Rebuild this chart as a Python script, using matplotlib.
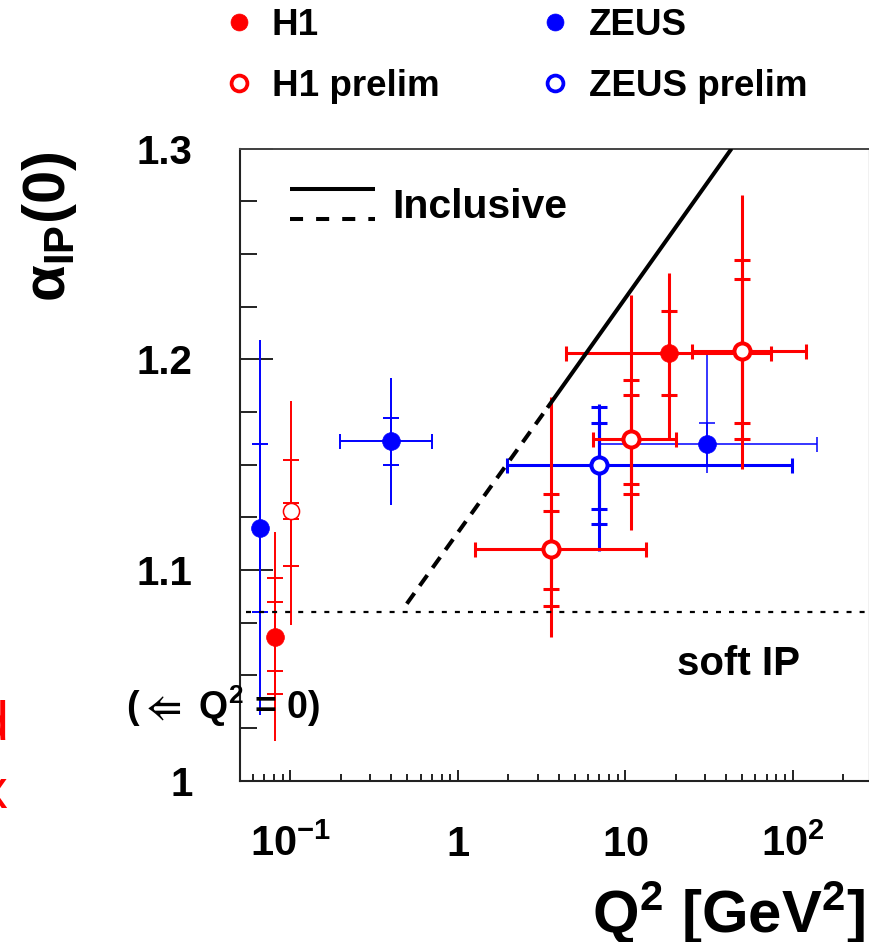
import numpy as np
import matplotlib
matplotlib.use('Agg')
import matplotlib.pyplot as plt
from matplotlib.ticker import LogLocator, MultipleLocator, NullFormatter
from matplotlib.lines import Line2D
from matplotlib.legend_handler import HandlerBase

plt.rcParams['font.family'] = ['Liberation Sans', 'DejaVu Sans']
plt.rcParams['font.weight'] = 'bold'
plt.rcParams['mathtext.fontset'] = 'custom'
plt.rcParams['mathtext.rm'] = 'Liberation Sans:bold'
plt.rcParams['mathtext.it'] = 'Liberation Sans:bold'
plt.rcParams['mathtext.bf'] = 'Liberation Sans:bold'
plt.rcParams['mathtext.default'] = 'rm'
plt.rcParams['mathtext.fallback'] = 'stixsans'
plt.rcParams['lines.scale_dashes'] = False

nan = np.nan

# ---------------- data ----------------
# ZEUS (published)
zeus_q2 = [0.066, 0.40, 30.9]
zeus_alpha = [1.120, 1.161, 1.160]
zeus_q2_lo = [nan, 0.198, 7.1]
zeus_q2_hi = [nan, 0.70, 140.0]
zeus_in_up = [0.040, 0.011, 0.010]
zeus_in_dn = [0.040, 0.011, 0.010]
zeus_mid_up = [nan, nan, nan]
zeus_mid_dn = [nan, nan, nan]
zeus_tot_up = [0.089, 0.030, 0.043]
zeus_tot_dn = [0.089, 0.030, 0.014]

# ZEUS prelim
zeusp_q2 = [7.0]
zeusp_alpha = [1.150]
zeusp_q2_lo = [1.98]
zeusp_q2_hi = [99.5]
zeusp_in_up = [0.020]
zeusp_in_dn = [0.021]
zeusp_mid_up = [0.0275]
zeusp_mid_dn = [0.028]
zeusp_tot_up = [0.029]
zeusp_tot_dn = [0.041]

# H1 (published)
h1_q2 = [0.081, 18.3]
h1_alpha = [1.068, 1.203]
h1_q2_lo = [nan, 4.46]
h1_q2_hi = [nan, 73.9]
h1_in_up = [0.017, 0.020]
h1_in_dn = [0.016, 0.020]
h1_mid_up = [0.028, nan]
h1_mid_dn = [0.027, nan]
h1_tot_up = [0.050, 0.038]
h1_tot_dn = [0.049, 0.041]

# H1 prelim
h1p_q2 = [0.101, 3.59, 10.8, 49.6]
h1p_alpha = [1.128, 1.110, 1.162, 1.204]
h1p_q2_lo = [nan, 1.27, 6.42, 25.2]
h1p_q2_hi = [nan, 13.4, 20.0, 119.6]
h1p_in_up = [0.004, 0.018, 0.021, 0.034]
h1p_in_dn = [0.004, 0.019, 0.021, 0.034]
h1p_mid_up = [0.024, 0.026, 0.028, 0.043]
h1p_mid_dn = [0.026, 0.027, 0.026, 0.042]
h1p_tot_up = [0.052, 0.072, 0.0685, 0.074]
h1p_tot_dn = [0.054, 0.042, 0.043, 0.056]

# Inclusive expectation (dashed part then solid part)
inclusive_q2 = [0.496, 3.43, 43.2]
inclusive_alpha = [1.084, 1.177, 1.300]

# soft pomeron
soft_q2 = [0.054, 286.0]
soft_alpha = 1.08

x_ticks = [0.1, 1, 10, 100]
x_tick_labels = [r'$10^{-1}$', r'$1$', r'$10$', r'$10^{2}$']
y_ticks = [1.0, 1.1, 1.2, 1.3]
y_tick_labels = ['1', '1.1', '1.2', '1.3']

# ---------------- styles ----------------
RED = '#ff0000'
BLUE = '#0000ff'
zeus_lw = [1.4, 1.4, 1.1]
zeusp_lw = [2.2]
h1_lw = [1.4, 2.2]
h1p_lw = [1.4, 2.2, 2.2, 2.2]
h1p_mew = [1.1, 2.9, 2.9, 2.9]
zeusp_mew = [2.9]

fig = plt.figure(figsize=(8.7, 9.42), dpi=100)
ax = fig.add_axes([240 / 870, (942 - 780.7) / 942, 629 / 870, 632.1 / 942])


def draw_points(q2, a, lo, hi, in_up, in_dn, mid_up, mid_dn, tot_up, tot_dn,
                color, filled, lws, mews=None):
    for i in range(len(q2)):
        x, y, lw = q2[i], a[i], lws[i]
        ax.errorbar([x], [y], yerr=[[tot_dn[i]], [tot_up[i]]], fmt='none',
                    ecolor=color, elinewidth=lw, capsize=0, zorder=2)
        for up, dn in ((in_up[i], in_dn[i]), (mid_up[i], mid_dn[i])):
            if not np.isnan(up):
                ax.errorbar([x], [y], yerr=[[dn], [up]], fmt='none',
                            ecolor=color, elinewidth=lw, capsize=6.1,
                            capthick=lw, zorder=2)
        if not np.isnan(lo[i]):
            ax.errorbar([x], [y], xerr=[[x - lo[i]], [hi[i] - x]], fmt='none',
                        ecolor=color, elinewidth=lw, capsize=5.4,
                        capthick=lw, zorder=2)
        if filled:
            ax.plot([x], [y], 'o', ms=12.8, mfc=color, mec=color, mew=0.5,
                    zorder=5)
        else:
            ax.plot([x], [y], 'o', ms=11.6, mfc='white', mec=color,
                    mew=mews[i], zorder=5)


draw_points(zeus_q2, zeus_alpha, zeus_q2_lo, zeus_q2_hi, zeus_in_up, zeus_in_dn,
            zeus_mid_up, zeus_mid_dn, zeus_tot_up, zeus_tot_dn, BLUE, True, zeus_lw)
draw_points(h1_q2, h1_alpha, h1_q2_lo, h1_q2_hi, h1_in_up, h1_in_dn,
            h1_mid_up, h1_mid_dn, h1_tot_up, h1_tot_dn, RED, True, h1_lw)
draw_points(zeusp_q2, zeusp_alpha, zeusp_q2_lo, zeusp_q2_hi, zeusp_in_up, zeusp_in_dn,
            zeusp_mid_up, zeusp_mid_dn, zeusp_tot_up, zeusp_tot_dn, BLUE, False,
            zeusp_lw, zeusp_mew)
draw_points(h1p_q2, h1p_alpha, h1p_q2_lo, h1p_q2_hi, h1p_in_up, h1p_in_dn,
            h1p_mid_up, h1p_mid_dn, h1p_tot_up, h1p_tot_dn, RED, False,
            h1p_lw, h1p_mew)

# Inclusive lines
l_dash, = ax.plot(inclusive_q2[:2], inclusive_alpha[:2], color='black', lw=2.9,
                  dashes=(9.4, 6.5), zorder=4)
l_solid, = ax.plot(inclusive_q2[1:], inclusive_alpha[1:], color='black', lw=2.9,
                   zorder=4, solid_capstyle='butt')
# soft pomeron
ax.plot(soft_q2, [soft_alpha, soft_alpha], color='black', lw=1.6,
        dashes=(3.6, 5.8), zorder=3)

# axes
ax.set_xscale('log')
ax.set_xlim(0.05, 286)
ax.set_ylim(1.0, 1.3)
ax.set_xticks(x_ticks, labels=x_tick_labels, va='baseline')
ax.xaxis.set_minor_locator(LogLocator(base=10, subs=np.arange(2, 10) * 1.0, numticks=30))
ax.xaxis.set_minor_formatter(NullFormatter())
ax.set_yticks(y_ticks, labels=y_tick_labels)
ax.yaxis.set_minor_locator(MultipleLocator(0.025))

ax.tick_params(axis='x', which='major', direction='in', length=8, width=1.4,
               pad=54.5, labelsize=30, top=False, bottom=True, colors='#222222',
               labelcolor='black')
ax.tick_params(axis='x', which='minor', direction='in', length=5, width=1.4,
               top=False, bottom=True, colors='#222222')
ax.tick_params(axis='y', which='major', direction='in', length=23.8, width=1.4,
               pad=34, labelsize=29, left=True, right=False, colors='#222222',
               labelcolor='black')
ax.tick_params(axis='y', which='minor', direction='in', length=12, width=1.4,
               left=True, right=False, colors='#222222')

for s in ('left', 'bottom'):
    ax.spines[s].set_color('#222222')
    ax.spines[s].set_linewidth(1.5)
ax.spines['top'].set_color('#444444')
ax.spines['top'].set_linewidth(1.4)
ax.spines['right'].set_color('#bbbbbb')
ax.spines['right'].set_linewidth(1.0)

# axis titles
fig.text(865 / 870, 1 - 933 / 942, r'$Q^{2}\ [GeV^{2}]$', fontsize=43,
         ha='right', va='baseline')
fig.text(65.4 / 870, 1 - 151.7 / 942, r'$\alpha_{IP}(0)$', fontsize=43,
         rotation=90, rotation_mode='anchor', ha='right', va='baseline')

# annotations
ax.text(20.5, 1.0554, 'soft IP', fontsize=29, ha='left', va='center')
ax.text(0.0104, 1.0355, r'(${\Leftarrow}$ $Q^{2}$ = 0)', fontsize=27, ha='left',
        va='center', clip_on=False, zorder=6)

# partial red text from the neighbouring panel
fig.text(8 / 870, 1 - 740 / 942, 'd', color=RED, fontsize=40,
         fontweight='normal', ha='right', va='baseline')
fig.text(7 / 870, 1 - 808 / 942, 'x', color=RED, fontsize=40,
         fontweight='normal', ha='right', va='baseline')


# Inclusive legend (solid over dashed)
class StackHandler(HandlerBase):
    def create_artists(self, legend, orig_handle, xdescent, ydescent, width,
                       height, fontsize, trans):
        yc = (height - 2 * ydescent) / 2
        dy = 10.8
        x0, x1 = -xdescent, width - xdescent
        a1 = Line2D([x0, x1], [yc + dy, yc + dy], color='black', lw=2.9,
                    solid_capstyle='butt', transform=trans)
        a2 = Line2D([x0, x1], [yc - dy, yc - dy], color='black', lw=2.9,
                    dashes=(9.4, 9.4), transform=trans)
        return [a1, a2]


fig.legend([(l_solid, l_dash)], ['Inclusive'], handler_map={tuple: StackHandler()},
           loc='center left', bbox_to_anchor=(290 / 870, 1 - 207 / 942),
           bbox_transform=fig.transFigure, frameon=False, fontsize=29.5,
           handlelength=2.08, handleheight=0.75, handletextpad=0.42,
           borderpad=0, borderaxespad=0)

# top legend
handles = [
    Line2D([], [], ls='none', marker='o', ms=12.2, mfc=RED, mec=RED, mew=0.5),
    Line2D([], [], ls='none', marker='o', ms=11.4, mfc='white', mec=RED, mew=2.7),
    Line2D([], [], ls='none', marker='o', ms=12.2, mfc=BLUE, mec=BLUE, mew=0.5),
    Line2D([], [], ls='none', marker='o', ms=11.4, mfc='white', mec=BLUE, mew=2.7),
]
labels = ['H1', 'H1 prelim', 'ZEUS', 'ZEUS prelim']
fig.legend(handles, labels, ncol=2, loc='center left',
           bbox_to_anchor=(224 / 870, 1 - 56 / 942), bbox_transform=fig.transFigure,
           frameon=False, fontsize=26.5, handlelength=0.8, handletextpad=0.5,
           columnspacing=2.75, labelspacing=0.72, borderpad=0, borderaxespad=0)

fig.savefig('out.png', dpi=100)
